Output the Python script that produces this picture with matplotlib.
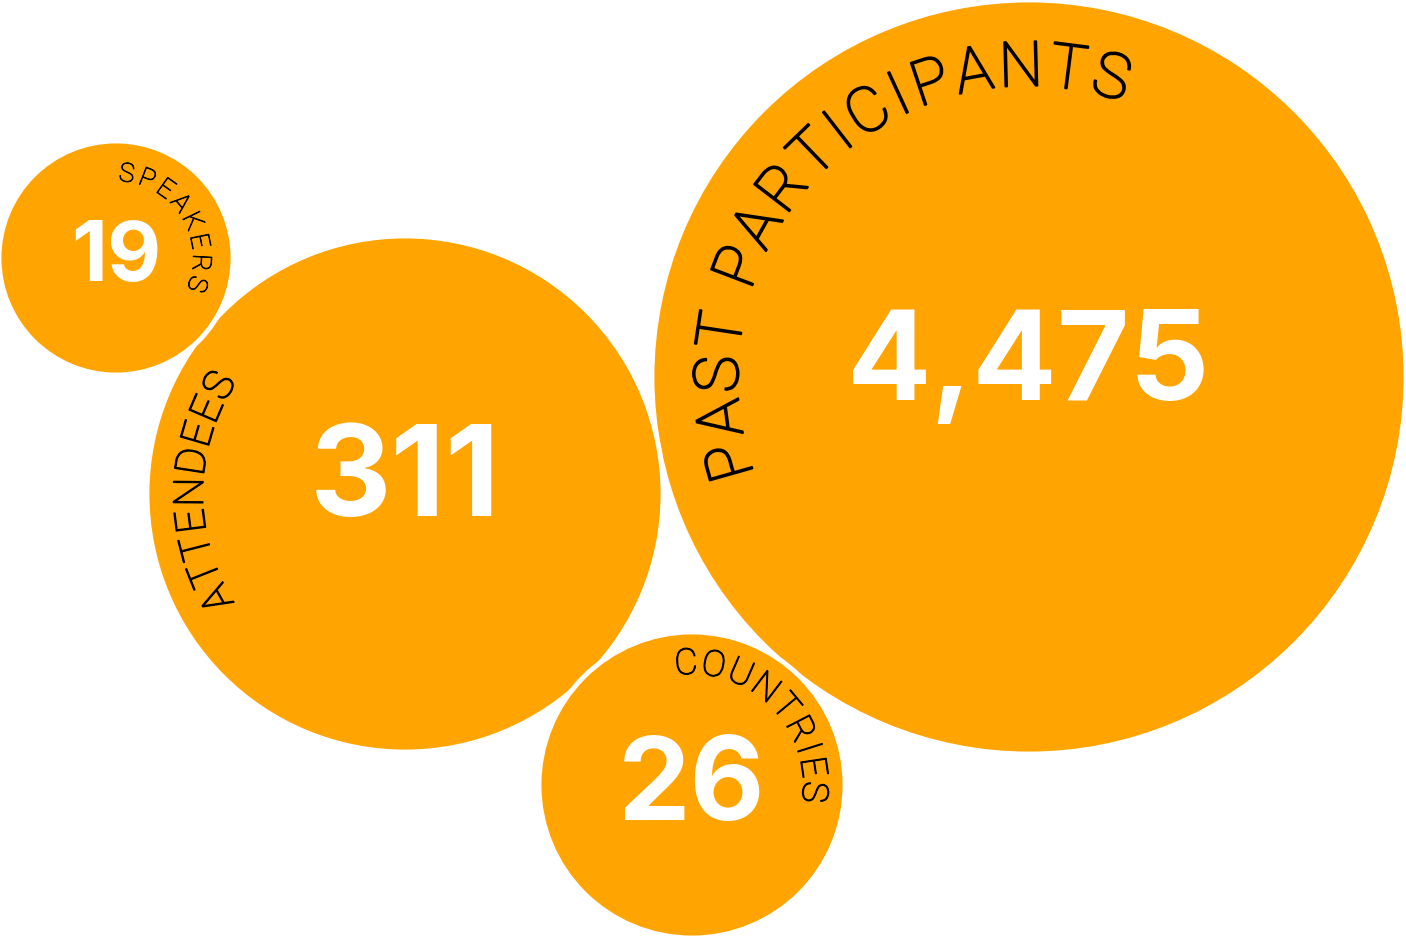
import numpy as np
import matplotlib
matplotlib.use("Agg")
import matplotlib.pyplot as plt
import matplotlib.patheffects as pe
from matplotlib.patches import Circle
from matplotlib.font_manager import FontProperties

# data
labels = ["PAST PARTICIPANTS", "ATTENDEES", "SPEAKERS", "COUNTRIES"]
values = [4475, 311, 19, 26]

# layout (pixels, y up), radius and label arc
centers = [(1029, 561), (405, 444), (116, 680), (692, 153)]
radii = [377, 258, 117, 153]
arc_start = [195.8, 209.0, 82.7, 92.8]   # angle of first letter
arc_end = [74.6, 149.7, -17.8, -3.3]     # angle of last letter
label_r = [291, 202, 77, 111]            # baseline radius
label_size = [45, 30, 19, 26]
num_size = [90, 91, 60, 83]
num_base = [538, 422, 657, 118]          # baseline of the number

orange = "#FFA400"

fig = plt.figure(figsize=(14.06, 9.38), dpi=100)
ax = fig.add_axes([0, 0, 1, 1])
ax.set_xlim(0, 1406)
ax.set_ylim(0, 938)
ax.axis("off")

for (cx, cy), r in zip(centers, radii):
    ax.add_patch(Circle((cx, cy), r, facecolor=orange, edgecolor="white", lw=3.5))

renderer = fig.canvas.get_renderer()


def arc_text(text, cx, cy, r, a0, a1, size):
    fp = FontProperties(family=["Roboto", "DejaVu Sans"], weight="light", size=size)
    w = [renderer.get_text_width_height_descent(c, fp, ismath=False)[0] for c in text]
    cap = size * 100 / 72 * 0.71
    rm = r + cap / 2
    n = len(text)
    # centre positions without tracking
    pos0 = np.cumsum([0] + w[:-1]) + np.array(w) / 2
    L = rm * np.radians(a0 - a1)
    t = (L - (pos0[-1] - pos0[0])) / (n - 1)
    pos = pos0 + t * np.arange(n)
    pos = pos - pos[0]
    stroke = [pe.withStroke(linewidth=size * 0.03, foreground="black")]
    for c, p in zip(text, pos):
        phi = np.radians(a0) - p / rm
        ax.text(cx + r * np.cos(phi), cy + r * np.sin(phi), c,
                fontproperties=fp, color="black", path_effects=stroke,
                rotation=np.degrees(phi) - 90, rotation_mode="anchor",
                ha="center", va="baseline")


for i in range(len(labels)):
    cx, cy = centers[i]
    arc_text(labels[i], cx, cy, label_r[i], arc_start[i], arc_end[i], label_size[i])
    ax.text(cx, num_base[i], f"{values[i]:,}", color="white",
            family=["Inter", "DejaVu Sans"], weight="bold", size=num_size[i],
            ha="center", va="baseline")

fig.savefig("out.png", dpi=100, facecolor="white")
